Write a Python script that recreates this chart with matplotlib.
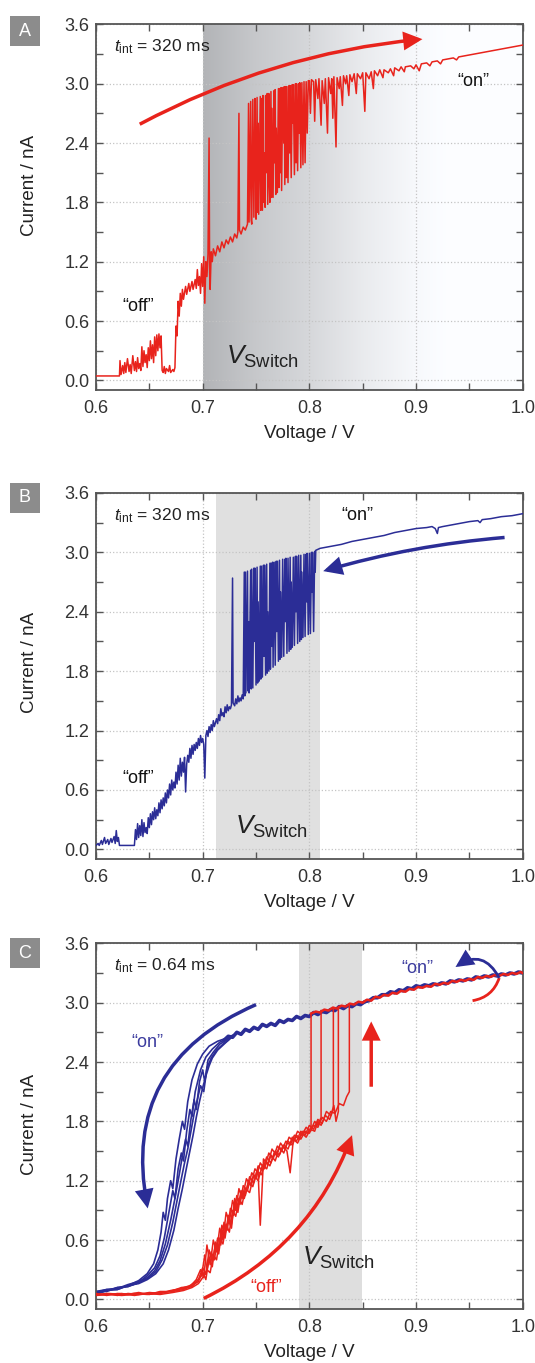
import numpy as np
import matplotlib
matplotlib.use('Agg')
import matplotlib.pyplot as plt
from matplotlib.patches import FancyArrowPatch, Rectangle
from matplotlib.ticker import MultipleLocator, FormatStrFormatter

plt.rcParams['font.family'] = ['Liberation Sans', 'DejaVu Sans']
plt.rcParams['mathtext.fontset'] = 'custom'
plt.rcParams['mathtext.rm'] = 'Liberation Sans'
plt.rcParams['mathtext.it'] = 'Liberation Sans:italic'

# ---------------------------------------------------------------
# values: (voltage / V, current / nA)
# ---------------------------------------------------------------

# panel A, t_int = 320 ms, upward sweep
traceA = [
    (0.600, 0.045), (0.622, 0.045),
    (0.6225, 0.20), (0.6235, 0.06), (0.625, 0.15), (0.626, 0.07), (0.627, 0.18), (0.628, 0.08),
    (0.6295, 0.22), (0.631, 0.09), (0.632, 0.16), (0.633, 0.07), (0.6345, 0.25), (0.636, 0.10),
    (0.637, 0.19), (0.638, 0.09), (0.639, 0.23), (0.640, 0.12), (0.641, 0.17), (0.642, 0.10),
    (0.643, 0.34), (0.644, 0.14), (0.645, 0.30), (0.646, 0.18), (0.647, 0.26), (0.648, 0.13),
    (0.649, 0.33), (0.650, 0.20), (0.651, 0.40), (0.652, 0.22), (0.653, 0.36), (0.654, 0.18),
    (0.655, 0.44), (0.656, 0.25), (0.657, 0.46), (0.658, 0.30), (0.659, 0.47), (0.660, 0.33),
    (0.661, 0.45),
    (0.662, 0.10), (0.663, 0.08), (0.664, 0.14), (0.665, 0.07), (0.666, 0.12), (0.668, 0.09),
    (0.669, 0.15), (0.670, 0.08), (0.672, 0.11), (0.673, 0.09), (0.674, 0.13),
    (0.675, 0.55), (0.676, 0.45), (0.677, 0.80), (0.678, 0.65), (0.679, 0.88), (0.680, 0.75),
    (0.681, 0.92), (0.682, 0.82), (0.684, 0.95), (0.685, 0.87), (0.687, 0.98), (0.688, 0.90),
    (0.690, 1.00), (0.691, 0.92), (0.693, 1.02), (0.694, 0.93), (0.695, 1.12), (0.696, 0.96),
    (0.697, 1.05), (0.698, 0.88), (0.699, 1.18), (0.700, 0.95), (0.701, 1.25), (0.702, 0.78),
    (0.703, 1.20), (0.704, 1.05), (0.705, 1.28),
    (0.706, 2.45), (0.7065, 1.10), (0.707, 0.92), (0.708, 1.30), (0.709, 1.20), (0.710, 1.33),
    (0.712, 1.26), (0.714, 1.36), (0.716, 1.30), (0.718, 1.40), (0.720, 1.34), (0.722, 1.42),
    (0.724, 1.38), (0.726, 1.45), (0.728, 1.40), (0.730, 1.48), (0.732, 1.44), (0.733, 1.50),
    (0.734, 2.70), (0.7345, 1.52), (0.736, 1.48), (0.738, 1.55), (0.740, 1.52), (0.742, 1.58),
    (0.743, 2.80), (0.7435, 1.60), (0.745, 2.82), (0.7455, 1.62), (0.746, 1.58), (0.747, 2.84),
    (0.748, 1.65), (0.749, 2.85), (0.7495, 2.40), (0.750, 1.63), (0.751, 2.86), (0.7515, 1.70),
    (0.752, 2.60), (0.7525, 1.68), (0.754, 2.87), (0.7545, 1.72), (0.755, 2.85), (0.756, 1.72),
    (0.7565, 2.88), (0.757, 1.80), (0.758, 2.30), (0.7585, 1.75), (0.759, 2.88), (0.760, 2.10),
    (0.7605, 2.90), (0.761, 1.78), (0.762, 2.90), (0.7625, 2.00), (0.763, 1.80), (0.764, 2.92),
    (0.7645, 1.85), (0.765, 2.75), (0.766, 1.85), (0.767, 2.93), (0.7675, 2.20), (0.768, 2.94),
    (0.7685, 1.88), (0.769, 2.55), (0.770, 1.90), (0.771, 2.95), (0.7715, 1.95), (0.772, 2.95),
    (0.773, 2.10), (0.7735, 2.96), (0.774, 1.92), (0.775, 2.96), (0.776, 2.40), (0.7765, 2.97),
    (0.777, 1.98), (0.778, 2.97), (0.7785, 2.05), (0.779, 2.97), (0.780, 2.00), (0.781, 2.98),
    (0.7815, 2.30), (0.782, 2.98), (0.783, 2.05), (0.784, 2.99), (0.7845, 2.60), (0.785, 2.99),
    (0.786, 2.08), (0.787, 3.00), (0.7875, 2.20), (0.788, 3.00), (0.789, 2.12), (0.790, 3.00),
    (0.7905, 2.50), (0.791, 3.01), (0.792, 2.15), (0.793, 3.01), (0.794, 2.18), (0.795, 3.02),
    (0.796, 2.20), (0.797, 3.02), (0.798, 2.50), (0.799, 3.03),
    (0.800, 3.03), (0.801, 2.70), (0.802, 3.04), (0.804, 3.02), (0.805, 2.62), (0.806, 3.04),
    (0.808, 2.85), (0.809, 3.05), (0.811, 2.58), (0.812, 3.03), (0.814, 2.80), (0.815, 3.05),
    (0.817, 2.50), (0.818, 3.06), (0.820, 2.90), (0.821, 3.05), (0.822, 2.65), (0.823, 3.07),
    (0.825, 2.36), (0.826, 3.06), (0.828, 2.95), (0.829, 3.07), (0.831, 2.78), (0.832, 3.08),
    (0.834, 3.00), (0.835, 3.08), (0.837, 2.88), (0.838, 3.09), (0.840, 3.02), (0.842, 3.10),
    (0.844, 2.90), (0.845, 3.10), (0.848, 3.05), (0.850, 3.11), (0.852, 2.72), (0.853, 3.11),
    (0.856, 3.05), (0.858, 3.12), (0.860, 2.95), (0.861, 3.13), (0.864, 3.08), (0.866, 3.14),
    (0.869, 3.06), (0.870, 3.14), (0.874, 3.11), (0.876, 3.15), (0.879, 3.08), (0.880, 3.16),
    (0.884, 3.13), (0.886, 3.17), (0.889, 3.12), (0.890, 3.17), (0.895, 3.18), (0.898, 3.15),
    (0.900, 3.19), (0.903, 3.13), (0.905, 3.20), (0.910, 3.21), (0.913, 3.18), (0.915, 3.22),
    (0.920, 3.23), (0.923, 3.20), (0.925, 3.24), (0.930, 3.25), (0.935, 3.26), (0.938, 3.24),
    (0.940, 3.27), (0.945, 3.28), (0.950, 3.29), (0.955, 3.30), (0.960, 3.31), (0.965, 3.32),
    (0.970, 3.33), (0.975, 3.34), (0.980, 3.35), (0.985, 3.36), (0.990, 3.37), (0.995, 3.38),
    (1.000, 3.39),
]

# panel B, t_int = 320 ms, downward sweep
traceB = [
    (0.600, 0.04), (0.602, 0.06), (0.603, 0.04), (0.605, 0.09), (0.606, 0.05), (0.608, 0.12),
    (0.609, 0.06), (0.611, 0.10), (0.612, 0.05), (0.614, 0.11), (0.615, 0.07), (0.617, 0.13),
    (0.618, 0.06), (0.619, 0.19), (0.620, 0.08), (0.621, 0.12), (0.622, 0.04), (0.636, 0.04),
    (0.637, 0.20), (0.638, 0.10), (0.639, 0.26), (0.640, 0.12), (0.641, 0.24), (0.642, 0.14),
    (0.643, 0.30), (0.644, 0.13), (0.645, 0.27), (0.646, 0.17), (0.647, 0.22), (0.648, 0.16),
    (0.649, 0.32), (0.650, 0.22), (0.651, 0.36), (0.652, 0.25), (0.653, 0.38), (0.654, 0.30),
    (0.655, 0.42), (0.656, 0.31), (0.657, 0.40), (0.658, 0.34), (0.659, 0.47), (0.660, 0.37),
    (0.661, 0.50), (0.662, 0.41), (0.663, 0.52), (0.664, 0.44), (0.665, 0.57), (0.666, 0.47),
    (0.667, 0.60), (0.668, 0.52), (0.669, 0.66), (0.670, 0.55), (0.671, 0.70), (0.672, 0.60),
    (0.673, 0.68), (0.674, 0.62), (0.675, 0.78), (0.676, 0.66), (0.677, 0.85), (0.678, 0.70),
    (0.679, 0.92), (0.680, 0.74), (0.681, 0.88), (0.682, 0.78), (0.683, 0.93), (0.684, 0.58),
    (0.685, 0.86), (0.686, 0.95), (0.687, 0.88), (0.688, 1.02), (0.689, 0.92), (0.690, 1.05),
    (0.691, 0.96), (0.692, 1.06), (0.693, 1.00), (0.694, 1.08), (0.695, 1.02), (0.696, 1.12),
    (0.697, 1.05), (0.698, 1.15), (0.699, 1.08), (0.700, 1.12), (0.701, 1.06), (0.702, 0.72),
    (0.703, 1.15), (0.704, 1.20), (0.705, 1.14), (0.706, 1.24), (0.707, 1.18), (0.708, 1.26),
    (0.709, 1.20), (0.710, 1.30), (0.711, 1.24), (0.712, 1.28), (0.713, 1.32), (0.714, 1.27),
    (0.715, 1.36), (0.716, 1.30), (0.717, 1.42), (0.718, 1.35), (0.719, 1.38), (0.720, 1.34),
    (0.721, 1.44), (0.722, 1.38), (0.723, 1.46), (0.724, 1.40), (0.725, 1.44), (0.726, 1.42),
    (0.727, 1.46),
    (0.728, 2.74), (0.7285, 1.48), (0.730, 1.45), (0.731, 1.52), (0.732, 1.47), (0.733, 1.55),
    (0.734, 1.49), (0.735, 1.53), (0.736, 1.50), (0.737, 1.56), (0.738, 1.52),
    (0.739, 2.80), (0.7395, 1.55), (0.740, 2.80), (0.7405, 1.58), (0.742, 2.81), (0.7425, 1.60),
    (0.743, 2.30), (0.7435, 1.58), (0.745, 2.82), (0.7455, 1.62), (0.746, 2.83), (0.747, 1.63),
    (0.748, 2.84), (0.7485, 2.10), (0.749, 2.84), (0.750, 1.66), (0.751, 2.85), (0.7515, 1.68),
    (0.752, 2.50), (0.753, 1.70), (0.754, 2.86), (0.7545, 1.72), (0.755, 2.86), (0.756, 1.74),
    (0.757, 2.87), (0.7575, 1.95), (0.758, 2.87), (0.759, 1.76), (0.760, 2.88), (0.7605, 1.78),
    (0.761, 2.40), (0.762, 1.80), (0.763, 2.89), (0.7635, 1.82), (0.764, 2.89), (0.765, 2.05),
    (0.7655, 2.90), (0.766, 1.84), (0.767, 2.90), (0.768, 1.86), (0.769, 2.91), (0.7695, 2.20),
    (0.770, 2.91), (0.771, 1.90), (0.772, 2.92), (0.7725, 1.92), (0.773, 2.60), (0.774, 1.94),
    (0.775, 2.93), (0.776, 1.95), (0.777, 2.93), (0.7775, 2.30), (0.778, 2.94), (0.779, 1.98),
    (0.780, 2.94), (0.781, 2.00), (0.782, 2.95), (0.7825, 2.02), (0.783, 2.70), (0.784, 2.04),
    (0.785, 2.95), (0.786, 2.06), (0.787, 2.96), (0.7875, 2.40), (0.788, 2.96), (0.789, 2.08),
    (0.790, 2.97), (0.791, 2.10), (0.792, 2.97), (0.7925, 2.12), (0.793, 2.80), (0.794, 2.14),
    (0.795, 2.98), (0.796, 2.15), (0.797, 2.98), (0.7975, 2.50), (0.798, 2.99), (0.799, 2.17),
    (0.800, 2.99), (0.801, 2.18), (0.802, 3.00), (0.8025, 2.60), (0.803, 3.00), (0.804, 2.20),
    (0.805, 3.01), (0.8055, 2.80), (0.806, 3.02),
    (0.810, 3.04), (0.820, 3.06), (0.830, 3.08), (0.840, 3.11), (0.850, 3.13), (0.860, 3.15),
    (0.870, 3.17), (0.880, 3.20), (0.890, 3.22), (0.900, 3.24), (0.910, 3.25), (0.915, 3.26),
    (0.918, 3.24), (0.920, 3.19), (0.921, 3.25), (0.925, 3.26), (0.930, 3.27), (0.940, 3.29),
    (0.950, 3.31), (0.958, 3.32), (0.960, 3.30), (0.962, 3.33), (0.970, 3.34), (0.980, 3.36),
    (0.990, 3.37), (1.000, 3.39),
]

# panel C, t_int = 0.64 ms: downward sweeps (blue), transition part
c_blue_1 = [(0.600, 0.06), (0.610, 0.09), (0.620, 0.10), (0.630, 0.14), (0.640, 0.19), (0.648, 0.26),
            (0.654, 0.36), (0.658, 0.50), (0.661, 0.68), (0.663, 0.88), (0.665, 0.80), (0.667, 1.02),
            (0.670, 1.20), (0.672, 1.12), (0.675, 1.42), (0.678, 1.62), (0.681, 1.80), (0.683, 1.72),
            (0.686, 2.00), (0.690, 2.22), (0.695, 2.38), (0.700, 2.48), (0.706, 2.56), (0.714, 2.61),
            (0.722, 2.64), (0.728, 2.67)]
c_blue_2 = [(0.600, 0.08), (0.610, 0.08), (0.620, 0.12), (0.630, 0.13), (0.640, 0.17), (0.648, 0.24),
            (0.655, 0.32), (0.660, 0.44), (0.664, 0.62), (0.668, 0.86), (0.672, 1.10), (0.674, 1.02),
            (0.677, 1.32), (0.680, 1.48), (0.682, 1.40), (0.685, 1.70), (0.688, 1.92), (0.690, 1.85),
            (0.693, 2.10), (0.698, 2.32), (0.703, 2.45), (0.709, 2.53), (0.716, 2.60), (0.722, 2.63),
            (0.728, 2.66)]
c_blue_3 = [(0.600, 0.07), (0.610, 0.10), (0.620, 0.11), (0.630, 0.15), (0.640, 0.18), (0.648, 0.22),
            (0.655, 0.29), (0.660, 0.39), (0.665, 0.56), (0.670, 0.80), (0.674, 1.02), (0.678, 1.26),
            (0.681, 1.45), (0.684, 1.62), (0.686, 1.55), (0.689, 1.82), (0.692, 2.02), (0.694, 1.92),
            (0.697, 2.20), (0.700, 2.32), (0.702, 2.20), (0.705, 2.42), (0.710, 2.50), (0.716, 2.58),
            (0.722, 2.62), (0.728, 2.66)]
c_blue_4 = [(0.600, 0.05), (0.610, 0.09), (0.620, 0.12), (0.630, 0.13), (0.640, 0.17), (0.648, 0.21),
            (0.656, 0.28), (0.662, 0.40), (0.667, 0.55), (0.672, 0.78), (0.676, 1.00), (0.680, 1.22),
            (0.683, 1.38), (0.686, 1.52), (0.689, 1.70), (0.692, 1.88), (0.695, 2.02), (0.698, 2.16),
            (0.701, 2.10), (0.704, 2.34), (0.708, 2.44), (0.713, 2.52), (0.719, 2.58), (0.724, 2.62),
            (0.728, 2.66)]
c_blue_5 = [(0.600, 0.08), (0.610, 0.10), (0.620, 0.10), (0.630, 0.14), (0.640, 0.16), (0.648, 0.20),
            (0.656, 0.26), (0.663, 0.36), (0.668, 0.50), (0.673, 0.70), (0.677, 0.92), (0.681, 1.12),
            (0.685, 1.34), (0.688, 1.50), (0.691, 1.66), (0.694, 1.84), (0.697, 2.00), (0.700, 2.14),
            (0.703, 2.26), (0.706, 2.36), (0.709, 2.44), (0.714, 2.52), (0.720, 2.58), (0.725, 2.63),
            (0.728, 2.66)]

# panel C, blue "on" branch shared by the sweeps
c_blue_on = [
    (0.720, 2.62), (0.724, 2.66), (0.728, 2.65), (0.732, 2.70), (0.736, 2.68), (0.740, 2.73),
    (0.744, 2.71), (0.748, 2.75), (0.752, 2.73), (0.756, 2.78), (0.760, 2.76), (0.764, 2.79),
    (0.768, 2.77), (0.772, 2.82), (0.776, 2.80), (0.780, 2.83), (0.784, 2.82), (0.788, 2.86),
    (0.792, 2.84), (0.796, 2.87), (0.800, 2.86), (0.804, 2.90), (0.808, 2.88), (0.812, 2.91),
    (0.816, 2.90), (0.820, 2.93), (0.824, 2.92), (0.828, 2.96), (0.832, 2.94), (0.836, 2.97),
    (0.840, 2.96), (0.844, 2.99), (0.848, 2.98), (0.852, 3.01), (0.856, 3.02), (0.860, 3.05),
    (0.864, 3.05), (0.868, 3.08), (0.872, 3.08), (0.876, 3.11), (0.880, 3.10), (0.884, 3.13),
    (0.888, 3.12), (0.892, 3.15), (0.896, 3.14), (0.900, 3.17), (0.904, 3.16), (0.908, 3.18),
    (0.912, 3.17), (0.916, 3.19), (0.920, 3.18), (0.924, 3.20), (0.928, 3.19), (0.932, 3.22),
    (0.936, 3.21), (0.940, 3.23), (0.944, 3.22), (0.948, 3.24), (0.952, 3.23), (0.956, 3.26),
    (0.960, 3.25), (0.964, 3.27), (0.968, 3.26), (0.972, 3.28), (0.976, 3.27), (0.980, 3.29),
    (0.984, 3.28), (0.988, 3.30), (0.992, 3.29), (0.996, 3.31), (1.000, 3.30),
]

# panel C, upward sweeps (red), "off" branch up to the switch
c_red_1 = [(0.600, 0.04), (0.610, 0.06), (0.620, 0.04), (0.630, 0.06), (0.640, 0.05), (0.650, 0.07),
           (0.660, 0.06), (0.670, 0.09), (0.680, 0.11), (0.688, 0.14), (0.694, 0.18), (0.699, 0.24),
           (0.702, 0.45), (0.704, 0.30), (0.708, 0.48), (0.711, 0.40), (0.714, 0.62), (0.717, 0.55),
           (0.720, 0.78), (0.723, 0.70), (0.726, 0.92), (0.729, 0.85), (0.732, 1.05), (0.735, 0.96),
           (0.738, 1.15), (0.742, 1.10), (0.746, 1.28), (0.750, 1.22), (0.754, 1.38), (0.758, 1.32),
           (0.762, 1.48), (0.766, 1.42), (0.770, 1.55), (0.774, 1.50), (0.778, 1.60), (0.782, 1.56),
           (0.786, 1.66), (0.790, 1.62), (0.794, 1.70), (0.798, 1.68), (0.8016, 1.74), (0.8016, 2.89)]
c_red_2 = [(0.600, 0.06), (0.610, 0.04), (0.620, 0.06), (0.630, 0.05), (0.640, 0.07), (0.650, 0.05),
           (0.660, 0.08), (0.670, 0.08), (0.680, 0.12), (0.688, 0.13), (0.694, 0.20), (0.698, 0.30),
           (0.701, 0.22), (0.704, 0.55), (0.707, 0.35), (0.710, 0.60), (0.713, 0.48), (0.716, 0.72),
           (0.719, 0.60), (0.722, 0.88), (0.725, 0.78), (0.728, 1.00), (0.731, 0.90), (0.734, 1.12),
           (0.737, 1.02), (0.741, 1.22), (0.745, 1.15), (0.749, 1.32), (0.752, 1.28), (0.754, 0.75),
           (0.757, 1.42), (0.761, 1.36), (0.765, 1.52), (0.769, 1.46), (0.773, 1.58), (0.777, 1.52),
           (0.781, 1.64), (0.785, 1.60), (0.789, 1.70), (0.793, 1.66), (0.797, 1.74), (0.801, 1.70),
           (0.805, 1.80), (0.808, 1.76), (0.811, 1.84), (0.811, 2.92)]
c_red_3 = [(0.600, 0.05), (0.612, 0.05), (0.624, 0.06), (0.636, 0.04), (0.648, 0.06), (0.660, 0.07),
           (0.672, 0.08), (0.682, 0.10), (0.690, 0.14), (0.696, 0.18), (0.700, 0.28), (0.703, 0.20),
           (0.706, 0.42), (0.709, 0.33), (0.712, 0.58), (0.715, 0.46), (0.718, 0.70), (0.721, 0.62),
           (0.724, 0.85), (0.727, 0.76), (0.730, 0.98), (0.733, 0.88), (0.736, 1.10), (0.739, 1.02),
           (0.743, 1.20), (0.747, 1.14), (0.751, 1.30), (0.755, 1.26), (0.759, 1.40), (0.763, 1.35),
           (0.767, 1.48), (0.771, 1.44), (0.775, 1.55), (0.779, 1.50), (0.782, 1.28), (0.785, 1.62),
           (0.789, 1.58), (0.793, 1.68), (0.797, 1.64), (0.801, 1.72), (0.805, 1.70), (0.808, 1.80),
           (0.811, 1.76), (0.815, 1.86), (0.819, 1.82), (0.8225, 1.92), (0.8225, 2.95)]
c_red_4 = [(0.600, 0.05), (0.612, 0.06), (0.624, 0.05), (0.636, 0.06), (0.648, 0.05), (0.660, 0.06),
           (0.672, 0.09), (0.682, 0.11), (0.690, 0.13), (0.696, 0.20), (0.700, 0.32), (0.703, 0.25),
           (0.706, 0.50), (0.709, 0.38), (0.712, 0.55), (0.715, 0.50), (0.718, 0.75), (0.721, 0.66),
           (0.724, 0.80), (0.727, 0.72), (0.730, 1.02), (0.733, 0.94), (0.736, 1.08), (0.740, 1.05),
           (0.744, 1.24), (0.748, 1.18), (0.752, 1.35), (0.756, 1.30), (0.760, 1.44), (0.764, 1.38),
           (0.768, 1.50), (0.772, 1.46), (0.776, 1.56), (0.780, 1.52), (0.784, 1.64), (0.788, 1.60),
           (0.792, 1.70), (0.796, 1.66), (0.800, 1.76), (0.804, 1.72), (0.808, 1.82), (0.812, 1.78),
           (0.816, 1.90), (0.820, 1.86), (0.823, 1.96), (0.825, 1.80), (0.8272, 1.90), (0.8272, 2.96)]
c_red_5 = [(0.600, 0.04), (0.612, 0.05), (0.624, 0.04), (0.636, 0.05), (0.648, 0.06), (0.660, 0.05),
           (0.672, 0.07), (0.682, 0.09), (0.690, 0.12), (0.696, 0.16), (0.700, 0.22), (0.704, 0.30),
           (0.707, 0.27), (0.710, 0.45), (0.713, 0.40), (0.716, 0.62), (0.719, 0.56), (0.722, 0.76),
           (0.725, 0.68), (0.728, 0.90), (0.731, 0.84), (0.734, 1.02), (0.737, 0.96), (0.740, 1.12),
           (0.744, 1.08), (0.748, 1.26), (0.752, 1.20), (0.756, 1.36), (0.760, 1.32), (0.764, 1.46),
           (0.768, 1.40), (0.772, 1.54), (0.776, 1.48), (0.780, 1.60), (0.784, 1.56), (0.788, 1.66),
           (0.792, 1.62), (0.796, 1.70), (0.800, 1.68), (0.804, 1.76), (0.808, 1.74), (0.812, 1.84),
           (0.816, 1.80), (0.820, 1.90), (0.824, 1.88), (0.828, 1.98), (0.832, 1.96), (0.835, 2.05),
           (0.8375, 2.10), (0.8375, 2.99)]

# panel C, red "on" branch after switching
c_red_on = [
    (0.8016, 2.89), (0.806, 2.91), (0.810, 2.90), (0.814, 2.93), (0.818, 2.92), (0.822, 2.95),
    (0.826, 2.94), (0.830, 2.97), (0.834, 2.96), (0.838, 2.99), (0.842, 2.98), (0.846, 3.01),
    (0.850, 3.00), (0.854, 3.03), (0.858, 3.02), (0.862, 3.06), (0.866, 3.05), (0.870, 3.08),
    (0.874, 3.07), (0.878, 3.10), (0.882, 3.09), (0.886, 3.12), (0.890, 3.11), (0.894, 3.14),
    (0.898, 3.13), (0.902, 3.16), (0.906, 3.15), (0.910, 3.17), (0.914, 3.16), (0.918, 3.19),
    (0.922, 3.18), (0.926, 3.20), (0.930, 3.19), (0.934, 3.22), (0.938, 3.21), (0.942, 3.23),
    (0.946, 3.22), (0.950, 3.24), (0.954, 3.23), (0.958, 3.26), (0.962, 3.25), (0.966, 3.27),
    (0.970, 3.26), (0.974, 3.28), (0.978, 3.27), (0.982, 3.29), (0.986, 3.28), (0.990, 3.30),
    (0.994, 3.29), (0.998, 3.31), (1.000, 3.30),
]

# switching windows (V)
switchA = (0.700, 1.000)
switchB = (0.7125, 0.810)
switchC = (0.790, 0.849)

red = '#e8231c'
blue = '#2b2d96'
blue_txt = '#3b3b9e'

# ---------------------------------------------------------------
W, H = 535, 1363
fig = plt.figure(figsize=(W / 100, H / 100), dpi=100)


def add_ax(top, bottom):
    return fig.add_axes([96 / W, 1 - bottom / H, 426.7 / W, (bottom - top) / H])


def style(ax, ylab_y):
    ax.set_xlim(0.6, 1.0)
    ax.set_ylim(-0.1, 3.6)
    ax.xaxis.set_major_locator(MultipleLocator(0.1))
    ax.xaxis.set_minor_locator(MultipleLocator(0.05))
    ax.yaxis.set_major_locator(MultipleLocator(0.6))
    ax.yaxis.set_minor_locator(MultipleLocator(0.3))
    ax.xaxis.set_major_formatter(FormatStrFormatter('%.1f'))
    ax.yaxis.set_major_formatter(FormatStrFormatter('%.1f'))
    ax.tick_params(which='both', direction='in', top=True, right=True, length=5,
                   width=1.0, color='#555555', labelsize=13, labelcolor='#333333')
    ax.tick_params(axis='x', pad=7)
    ax.tick_params(axis='y', pad=5)
    for s in ax.spines.values():
        s.set_color('#555555')
        s.set_linewidth(1.3)
    ax.grid(True, which='major', ls=':', color='#c4c4c4', lw=0.9)
    ax.set_axisbelow(True)
    ax.set_xlabel('Voltage / V', fontsize=13.5, color='#222222', va='center')
    ax.xaxis.set_label_coords(0.5, -0.117)
    ax.set_ylabel('Current / nA', fontsize=13.5, color='#222222', va='center')
    ax.yaxis.set_label_coords(-0.155, ylab_y)


def arrow(ax, p0, p1, color, rad=0.0, lw=2.5, head=True):
    st = '-|>,head_length=0.65,head_width=0.32' if head else '-'
    a = FancyArrowPatch(p0, p1, arrowstyle=st, connectionstyle='arc3,rad=%s' % rad,
                        mutation_scale=15, color=color, lw=lw, shrinkA=0, shrinkB=0,
                        zorder=4, joinstyle='miter', capstyle='butt')
    ax.add_patch(a)


def xy(pts):
    a = np.array(pts)
    return a[:, 0], a[:, 1]


def tint(ax, s):
    ax.text(0.617, 3.37, r'$t_{\mathrm{int}}$ = ' + s, fontsize=12.5, color='#222222',
            ha='left', va='center', zorder=5)


def vswitch(ax, v, i):
    ax.text(v, i, r'$V_{\mathrm{Switch}}$', fontsize=19, color='#222222',
            ha='left', va='baseline', zorder=5)


# ---------------- panel A ----------------
axA = add_ax(24.3, 390.3)
gv = np.linspace(switchA[0], switchA[1], 300)
gg = np.interp(gv, [0.70, 0.75, 0.80, 0.85, 0.90, 0.93], [0.71, 0.79, 0.85, 0.925, 0.98, 1.0])
rgb = np.dstack([gg - 0.01, gg - 0.004, gg + 0.008]).clip(0, 1)
axA.imshow(rgb, extent=[switchA[0], switchA[1], -0.1, 3.6], aspect='auto',
           zorder=0, interpolation='bilinear')
va, ia = xy(traceA)
axA.plot(va, ia, color=red, lw=1.1, zorder=3)
style(axA, 0.559)
tint(axA, '320 ms')
axA.text(0.954, 3.02, '\u201con\u201d', fontsize=13, ha='center', va='center', color='#111111')
axA.text(0.640, 0.745, '\u201coff\u201d', fontsize=13, ha='center', va='center', color='#111111')
vswitch(axA, 0.722, 0.17)
arrow(axA, (0.641, 2.59), (0.906, 3.45), red, rad=-0.1)

# ---------------- panel B ----------------
axB = add_ax(492.9, 859.3)
axB.axvspan(switchB[0], switchB[1], color='#e0e0e0', lw=0, zorder=0)
vb, ib = xy(traceB)
axB.plot(vb, ib, color=blue, lw=1.1, zorder=3)
style(axB, 0.538)
tint(axB, '320 ms')
axB.text(0.845, 3.37, '\u201con\u201d', fontsize=13, ha='center', va='center', color='#111111')
axB.text(0.640, 0.72, '\u201coff\u201d', fontsize=13, ha='center', va='center', color='#111111')
vswitch(axB, 0.730, 0.16)
arrow(axB, (0.983, 3.15), (0.813, 2.81), blue, rad=0.05)

# ---------------- panel C ----------------
axC = add_ax(943.3, 1309.3)
axC.axvspan(switchC[0], switchC[1], color='#dedede', lw=0, zorder=0)
for sw in [c_blue_1, c_blue_2, c_blue_3, c_blue_4, c_blue_5]:
    v, i = xy(sw)
    axC.plot(v, i, color=blue, lw=1.2, zorder=2)
v, i = xy(c_blue_on)
axC.plot(v, i, color=blue, lw=2.6, zorder=2)
for sw in [c_red_1, c_red_2, c_red_3, c_red_4, c_red_5]:
    v, i = xy(sw)
    axC.plot(v, i, color=red, lw=1.1, zorder=3)
v, i = xy(c_red_on)
axC.plot(v, i, color=red, lw=1.8, zorder=3)
style(axC, 0.506)
tint(axC, '0.64 ms')
axC.text(0.648, 2.60, '\u201con\u201d', fontsize=13, ha='center', va='center', color=blue_txt)
axC.text(0.901, 3.35, '\u201con\u201d', fontsize=13, ha='center', va='center', color=blue_txt)
axC.text(0.760, 0.12, '\u201coff\u201d', fontsize=13, ha='center', va='center', color=red)
vswitch(axC, 0.793, 0.35)
arrow(axC, (0.750, 2.98), (0.6485, 0.92), blue, rad=0.4)
arrow(axC, (0.701, 0.01), (0.840, 1.66), red, rad=0.2)
arrow(axC, (0.858, 2.15), (0.858, 2.81), red, rad=0.0)
arrow(axC, (0.953, 3.02), (0.978, 3.25), red, rad=0.3, lw=2.0, head=False)
arrow(axC, (0.978, 3.25), (0.937, 3.36), blue, rad=0.55, lw=2.0)

# panel letters
for lab, top in [('A', 16), ('B', 483), ('C', 938)]:
    fig.add_artist(Rectangle((10 / W, 1 - (top + 30) / H), 30 / W, 30 / H,
                             transform=fig.transFigure, color='#8c8c8c', lw=0))
    fig.text(25 / W, 1 - (top + 15) / H, lab, color='white', fontsize=13,
             ha='center', va='center')

fig.savefig('out.png', dpi=100)
